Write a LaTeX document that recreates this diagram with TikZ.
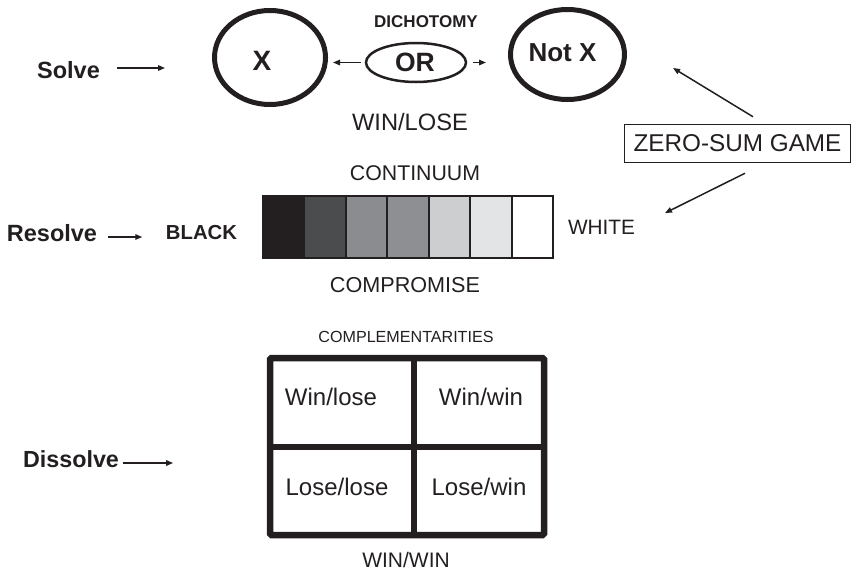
\documentclass[tikz,border=0pt]{standalone}
\usepackage{fontspec}
\setmainfont{Liberation Sans}
\usetikzlibrary{arrows.meta,shapes.geometric}
\definecolor{ink}{HTML}{231F20}
\definecolor{cA}{HTML}{231F20}
\definecolor{cB}{HTML}{4B4C4E}
\definecolor{cC}{HTML}{8B8C8F}
\definecolor{cD}{HTML}{8E8F92}
\definecolor{cE}{HTML}{CDCECF}
\definecolor{cF}{HTML}{E3E4E5}
\definecolor{cG}{HTML}{FFFFFF}
\newcommand\fsz[1]{\fontsize{#1}{#1}\selectfont}
\tikzset{
  lbl/.style={inner sep=0pt, text=ink, anchor=center},
  blbl/.style={lbl, font=\bfseries},
  arr/.style={draw=ink, line width=1.5pt, -{Triangle[length=7pt,width=5.5pt]}},
  bigell/.style={draw=ink, ellipse, line width=5pt, inner sep=0pt},
}
\begin{document}
\begin{tikzpicture}[x=1pt,y=-1pt]
\useasboundingbox (0,0) rectangle (852,574);
% ---- Solve row ----
\node[blbl, font=\bfseries\fsz{23.5}] (solve) at (68.5,70) {Solve};
\draw[arr] ([xshift=17pt,yshift=2pt]solve.east) -- ([xshift=65pt,yshift=2pt]solve.east);
\node[bigell, minimum width=111pt, minimum height=94pt] (ex) at (270,57.5) {};
\node[blbl, font=\bfseries\fsz{28}] (xlab) at (262,61) {X};
\node[draw=ink, ellipse, line width=2.5pt, inner sep=0pt, minimum width=100pt, minimum height=39pt] (or) at (416,62.5) {};
\node[blbl, font=\bfseries\fsz{26.5}] (orlab) at (415,62) {OR};
\node[bigell, minimum width=114pt, minimum height=90pt] (notx) at (567.5,54.5) {};
\node[blbl, font=\bfseries\fsz{26}] (notxlab) at (562.5,53) {Not X};
\node[blbl, font=\bfseries\fsz{17}] (dich) at (426,22) {DICHOTOMY};
\draw[arr, shorten <=4pt, shorten >=5pt] (or.west) -- (or.west -| ex.east);
\draw[arr, shorten <=6pt, shorten >=22pt] (or.east) -- (or.east -| notx.west);
\node[lbl, font=\fsz{23.7}] (winlose) at (410,122.5) {WIN/LOSE};
% ---- Zero-sum box ----
\node[draw=ink, line width=1.5pt, inner sep=0pt, minimum width=226pt, minimum height=38pt, font=\fsz{24.3}, text=ink] (zs) at (737.5,143.5) {ZERO-SUM GAME};
\coordinate (zsh1) at (673,68);
\coordinate (zsh2) at (665,213);
\draw[arr] ([xshift=15.5pt,yshift=7pt]zs.north) -- (zsh1);
\draw[arr] ([xshift=7.5pt,yshift=-10pt]zs.south) -- (zsh2);
% ---- Resolve row ----
\node[lbl, font=\fsz{21.3}] (cont) at (415,173) {CONTINUUM};
\node[blbl, font=\bfseries\fsz{23.5}] (resolve) at (52,233) {Resolve};
\draw[arr] ([xshift=11pt,yshift=-4pt]resolve.east) -- ([xshift=45pt,yshift=-4pt]resolve.east);
\node[blbl, font=\bfseries\fsz{20.3}] (black) at (201.5,233) {BLACK};
\node[lbl, font=\fsz{20.8}] (white) at (601.5,227) {WHITE};
\foreach \c [count=\i from 0] in {cA,cB,cC,cD,cE,cF,cG} {
  \fill[\c] (263+41.43*\i,196) rectangle (263+41.43*\i+41.43,258);
}
\foreach \i in {1,...,6} {
  \draw[ink, line width=2pt] (263+41.43*\i,196) -- (263+41.43*\i,258);
}
\draw[ink, line width=2.5pt] (263,196) rectangle (553,258);
\node[lbl, font=\fsz{21.6}] (comp) at (405,285) {COMPROMISE};
% ---- Dissolve row ----
\node[lbl, font=\fsz{16.1}] (compl) at (406,337) {COMPLEMENTARITIES};
\draw[ink, line width=6.5pt, rounded corners=1.5pt] (270,358) rectangle (544,535);
\draw[ink, line width=6.5pt] (414,358) -- (414,538);
\draw[ink, line width=6.5pt] (270,447) -- (544,447);
\node[lbl, font=\fsz{24}] (wl) at (331,397) {Win/lose};
\node[lbl, font=\fsz{24}] (ww) at (481,397) {Win/win};
\node[lbl, font=\fsz{24}] (ll) at (337,487) {Lose/lose};
\node[lbl, font=\fsz{24}] (lw) at (479,487) {Lose/win};
\node[lbl, font=\fsz{21}] (winwin) at (406,560) {WIN/WIN};
\node[blbl, font=\bfseries\fsz{23.3}] (dissolve) at (71,459) {Dissolve};
\draw[arr] ([xshift=4pt,yshift=-4pt]dissolve.east) -- ([xshift=54pt,yshift=-4pt]dissolve.east);
\end{tikzpicture}
\end{document}
